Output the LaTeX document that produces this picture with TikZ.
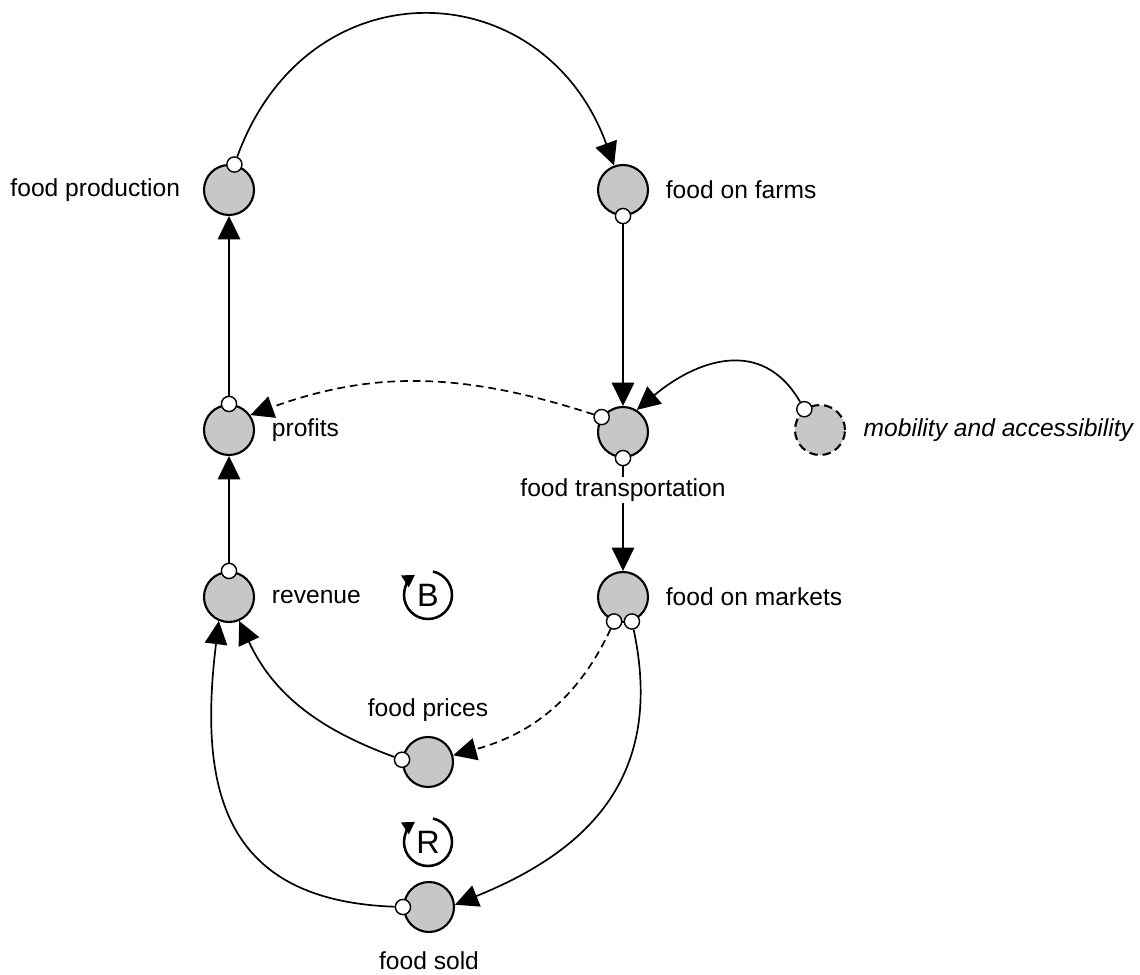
\documentclass[tikz,border=0pt]{standalone}
\usepackage{fontspec}
\setmainfont{Liberation Sans}
\usepackage{tikz}
\usetikzlibrary{arrows.meta,positioning}
\def\loopr{0.6}

\begin{document}
\begin{tikzpicture}[>={Triangle[length=0.58cm,width=0.56cm]}, line width=1.2pt, font=\fontsize{17.5}{21}\selectfont]
    \tikzstyle{stock}=[circle,draw=black,line width=1.5pt,fill=black!22,minimum size=1.25cm,inner sep=0pt]
    \tikzstyle{ext stock}=[stock, dash pattern=on 6pt off 3.5pt]
    \tikzstyle{tail}=[circle,draw=black,line width=1pt,fill=white,minimum size=0.38cm,inner sep=0pt]
    \tikzstyle{annot}=[inner sep=0pt]
    \tikzstyle{link}=[->]
    \tikzstyle{dashed link}=[->, dash pattern=on 5.5pt off 3.5pt]
    \tikzstyle{loop}=[inner sep=0pt, font=\fontsize{23}{26}\selectfont]

    \useasboundingbox (0,0) rectangle (28.5,-24.375);

    % Draw the stocks
    \node[stock] (prod) at (5.725,-4.75) {};
    \node[stock] (farms) at (15.575,-4.75) {};
    \node[stock] (profits) at (5.725,-10.75) {};
    \node[stock] (trans) at (15.575,-10.8) {};
    \node[ext stock] (mob) at (20.5,-10.75) {};
    \node[stock] (revenue) at (5.725,-14.925) {};
    \node[stock] (markets) at (15.575,-14.925) {};
    \node[stock] (prices) at (10.7,-19.05) {};
    \node[stock] (sold) at (10.725,-22.675) {};

    % Draw the link tails on the stocks
    \node[tail] (prod-t) at (prod.78) {};
    \node[tail] (farms-t) at (farms.-90) {};
    \node[tail] (profits-t) at (profits.90) {};
    \node[tail] (trans-l) at (trans.145) {};
    \node[tail] (trans-b) at (trans.-90) {};
    \node[tail] (mob-t) at (mob.127) {};
    \node[tail] (rev-t) at (revenue.90) {};
    \node[tail] (markets-l) at (markets.-110) {};
    \node[tail] (markets-r) at (markets.-70) {};
    \node[tail] (prices-t) at (prices.175) {};
    \node[tail] (sold-t) at (sold.180) {};

    % Connect the stocks
    \draw[link] (prod-t) to[out=70,in=110,looseness=1.4] (farms.110);
    \draw[link] (farms-t) -- (trans);
    \draw[link] (mob-t) to[out=120,in=40,looseness=1.2] (trans.58);
    \draw[dashed link] (trans-l) to[out=162,in=20] (profits.35);
    \draw[link] (trans-b) -- (markets);
    \draw[dashed link] (markets-l) to[out=-115,in=15] (prices);
    \draw[link] (markets-r) to[out=-78,in=22,looseness=1.15] (sold.5);
    \draw[link] (prices-t) to[out=160,in=-65] (revenue.-67);
    \draw[link] (sold-t) to[out=178,in=-97,looseness=1.3] (revenue.-113);
    \draw[link] (rev-t) -- (profits);
    \draw[link] (profits-t) -- (prod);

    % Annotate the stocks
    \node[annot, left=0.55cm of prod] (prod-l) {food production};
    \node[annot, right=0.4cm of farms] (farms-l) {food on farms};
    \node[annot, right=0.4cm of profits] (profits-l) {profits};
    \node[annot, fill=white, inner sep=1pt, below=0.45cm of trans] (trans-lab) {food transportation};
    \node[annot, right=0.42cm of mob] (mob-l) {\itshape mobility and accessibility};
    \node[annot, right=0.4cm of revenue] (rev-l) {revenue};
    \node[annot, right=0.4cm of markets] (markets-lab) {food on markets};
    \node[annot, above=0.35cm of prices] (prices-l) {food prices};
    \node[annot, below=0.45cm of sold] (sold-l) {food sold};

    % Draw the loop markers
    \foreach \name / \y in {B/-14.875, R/-21.05} {
        \node[loop] (loop-\name) at (10.7,\y) {\name};
        \draw[line width=1.8pt, -{Triangle[length=0.3cm,width=0.34cm]}]
            ([shift={(78:\loopr)}]loop-\name.center) arc[start angle=78,end angle=-237,radius=\loopr];
    }

\end{tikzpicture}
\end{document}
